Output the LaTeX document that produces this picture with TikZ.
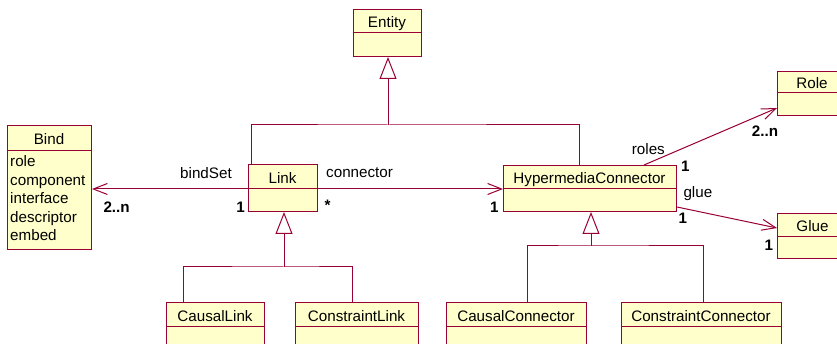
\documentclass[tikz,border=0pt]{standalone}
\usepackage{fontspec}
\setmainfont{Liberation Sans}
\usetikzlibrary{arrows.meta}
\definecolor{umlred}{RGB}{153,0,51}
\definecolor{umlfill}{RGB}{255,255,204}
\tikzset{
 cls/.style={draw=umlred, fill=umlfill, line width=1pt, inner sep=0pt, anchor=north west},
 divline/.style={draw=umlred, line width=1pt},
 gen/.style={draw=umlred, line width=1pt},
 gentip/.style={gen, -{Triangle[open, length=22pt, width=17pt]}},
 assoc/.style={draw=umlred, line width=1pt, -{Straight Barb[length=14pt, width=11pt]}},
 lbl/.style={font=\fontsize{15.2}{18.5}\selectfont, inner sep=0pt, anchor=base west},
 mult/.style={lbl, font=\fontsize{15.2}{18.5}\selectfont\bfseries},
 ttl/.style={font=\fontsize{15.2}{18.5}\selectfont, inner sep=0pt, anchor=base},
}
\newcommand{\umlclass}[7]{%
  \node[cls, minimum width={(#4-#2)*1pt}, minimum height={(#5-#3)*1pt}] (#1) at (#2,#3) {};
  \draw[divline] (#2,#6) -- (#4,#6);
  \node[ttl] (#1-t) at ({(#2+#4)/2},{(#3+#6)/2+7}) {#7};
}
\begin{document}
\begin{tikzpicture}[x=1pt,y=-1pt]
\useasboundingbox (0,0) rectangle (837,344);
\clip (0,0) rectangle (837,344);
\fill[white] (0,0) rectangle (837,344);

% classes
\umlclass{entity}{353}{9}{421}{56}{33}{Entity}
\umlclass{bind}{7}{125}{91}{249}{151}{Bind}
\umlclass{link}{248}{164}{317}{211}{188.5}{Link}
\umlclass{hc}{503}{165}{676}{211}{189}{HypermediaConnector}
\umlclass{role}{777}{71}{847}{115}{93}{Role}
\umlclass{glue}{777}{213}{848}{258}{237}{Glue}
\umlclass{causallink}{166}{302}{264}{349}{326}{CausalLink}
\umlclass{constraintlink}{295}{302}{418}{349}{326}{ConstraintLink}
\umlclass{causalconn}{446}{302}{586}{349}{326}{CausalConnector}
\umlclass{constraintconn}{621}{302}{781}{349}{326}{ConstraintConnector}

% Bind attributes
\foreach \t/\yy [count=\i] in {role/166.7,component/185.2,interface/203.7,descriptor/222.2,embed/240.7}
  \node[lbl] (bind-a\i) at (10,\yy) {\t};

% generalizations
\coordinate (ej) at (388,125);
\draw[gentip] (ej) -- (ej |- entity.south);
\draw[gen] ([xshift=3pt]link.north west) |- (ej) -| ([xshift=76pt]hc.north west);

\coordinate (lj) at (284,267);
\draw[gentip] (lj) -- (lj |- link.south);
\draw[gen] ([xshift=17pt]causallink.north west) |- (lj) -| ([xshift=57pt]constraintlink.north west);

\coordinate (hj) at (591,246);
\draw[gentip] (hj) -- (hj |- hc.south);
\draw[gen] ([xshift=81pt]causalconn.north west) |- (hj) -| ([xshift=82pt]constraintconn.north west);

% associations
\coordinate (ay) at (0,189);
\draw[assoc] (link.west |- ay) -- (bind.east |- ay);
\draw[assoc] (link.east |- ay) -- (hc.west |- ay);
\draw[assoc] ([xshift=141pt]hc.north west) -- ([yshift=-37pt]role.north west);
\draw[assoc] ([yshift=-42pt]hc.north east) -- ([yshift=-15pt]glue.north west);

% labels
\node[lbl] (l-bindset) at (180,178.3) {bindSet};
\node[mult] (m-bind) at (103.3,212.7) {2..n};
\node[mult] (m-link1) at (236.2,212.7) {1};
\node[lbl] (l-connector) at (326,177.3) {connector};
\node[mult] (m-star) at (324.5,210.5) {*};
\node[mult] (m-hc1) at (490,212.7) {1};
\node[lbl] (l-roles) at (631.7,154.3) {roles};
\node[mult] (m-roles1) at (681,171.7) {1};
\node[mult] (m-role) at (751.7,136.7) {2..n};
\node[lbl] (l-glue) at (683.3,197.3) {glue};
\node[mult] (m-glue1) at (678.5,224) {1};
\node[mult] (m-glue2) at (764.5,251) {1};
\end{tikzpicture}
\end{document}
